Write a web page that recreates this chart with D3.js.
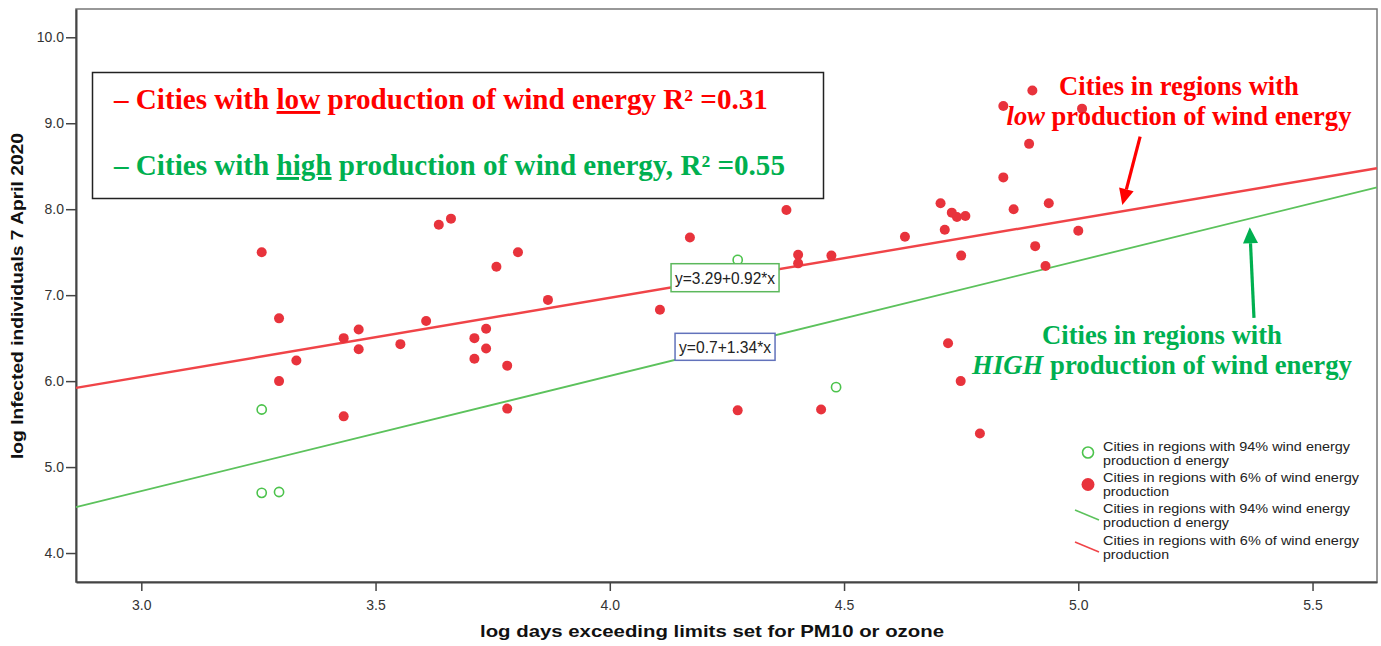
<!DOCTYPE html>
<html>
<head>
<meta charset="utf-8">
<script src="https://cdn.jsdelivr.net/npm/d3@7"></script>
<style>
  body { margin: 0; background: #fff; }
  svg { display: block; }
  .tick text { font-family: "Liberation Sans", Arial, sans-serif; font-size: 14px; fill: #333; }
  .serif { font-family: "Liberation Serif", "Times New Roman", serif; font-weight: bold; }
  .sans { font-family: "Liberation Sans", Arial, sans-serif; }
</style>
</head>
<body>
<svg id="chart" width="1381" height="646"></svg>
<script>
// cities in regions with low wind production (6%)
var lowX = [3.257, 3.294, 3.331, 3.294, 3.432, 3.432, 3.464, 3.464, 3.553, 3.608,
            3.635, 3.661, 3.758, 3.804, 3.868, 3.711, 3.736, 3.736, 3.711, 3.781,
            3.781, 4.107, 4.171, 4.377, 4.402, 4.402, 4.473, 4.273, 4.451, 4.902,
            4.840, 5.008, 4.895, 4.840, 4.706, 4.730, 4.741, 4.759, 4.862, 4.937,
            4.630, 4.715, 4.750, 4.908, 5.000, 4.930, 4.722, 4.749, 4.790];
var lowY = [7.50, 6.73, 6.24, 6.00, 5.59, 6.50, 6.60, 6.37, 6.43, 6.70,
            7.82, 7.89, 7.33, 7.50, 6.945, 6.50, 6.61, 6.38, 6.26, 6.18,
            5.68, 6.83, 7.67, 7.99, 7.47, 7.37, 7.46, 5.66, 5.67, 9.38,
            9.20, 9.17, 8.76, 8.37, 8.07, 7.96, 7.91, 7.92, 8.00, 8.07,
            7.68, 7.76, 7.46, 7.57, 7.75, 7.34, 6.44, 6.00, 5.39];

// cities in regions with high wind production (94%)
var highX = [3.257, 3.257, 3.294, 4.273, 4.483];
var highY = [5.67, 4.70, 4.71, 7.41, 5.93];

// fitted lines: [intercept, slope]
var fitLow = [3.29, 0.92];
var fitHigh = [0.7, 1.34];

var xTicks = [3.0, 3.5, 4.0, 4.5, 5.0, 5.5];
var yTicks = [4.0, 5.0, 6.0, 7.0, 8.0, 9.0, 10.0];

var legendLabels = [
    ["Cities in regions with 94% wind energy", "production d energy"],
    ["Cities in regions with 6% of wind energy", "production"],
    ["Cities in regions with 94% wind energy", "production d energy"],
    ["Cities in regions with 6% of wind energy", "production"]
];

var red = "#e8333c", redLine = "#f04448", green = "#4cc34c", greenLine = "#5cc25c";

var svg = d3.select("#chart");
var plotL = 76, plotR = 1377, plotT = 9, plotB = 582;

var x = d3.scaleLinear().domain([2.8606, 5.6376]).range([plotL, plotR]);
var y = d3.scaleLinear().domain([3.663, 10.329]).range([plotB, plotT]);

// frame
svg.append("rect")
    .attr("x", plotL).attr("y", plotT)
    .attr("width", plotR - plotL).attr("height", plotB - plotT)
    .attr("fill", "none").attr("stroke", "#777").attr("stroke-width", 1.5);

// axes
var xAxis = svg.append("g").attr("transform", "translate(0," + plotB + ")")
    .call(d3.axisBottom(x).tickValues(xTicks).tickFormat(d3.format(".1f")).tickSize(9).tickSizeOuter(0));
var yAxis = svg.append("g").attr("transform", "translate(" + plotL + ",0)")
    .call(d3.axisLeft(y).tickValues(yTicks).tickFormat(d3.format(".1f")).tickSize(10).tickSizeOuter(0));
[xAxis, yAxis].forEach(function (a) {
    a.select(".domain").attr("stroke", "#444").attr("stroke-width", 2);
    a.selectAll(".tick line").attr("stroke", "#444").attr("stroke-width", 1.5);
});
xAxis.selectAll(".tick text").attr("dy", "1.15em");
yAxis.selectAll(".tick text").attr("x", -12);

// axis titles
svg.append("text").attr("class", "sans")
    .attr("x", 712).attr("y", 637).attr("text-anchor", "middle")
    .attr("font-size", 17).attr("font-weight", "bold").attr("fill", "#111")
    .attr("textLength", 464).attr("lengthAdjust", "spacingAndGlyphs")
    .text("log days exceeding limits set for PM10 or ozone");
svg.append("text").attr("class", "sans")
    .attr("transform", "translate(23,296) rotate(-90)").attr("text-anchor", "middle")
    .attr("font-size", 17).attr("font-weight", "bold").attr("fill", "#111")
    .attr("textLength", 326).attr("lengthAdjust", "spacingAndGlyphs")
    .text("log Infected individuals 7 April 2020");

// regression lines
function fitLine(f, color, w) {
    var d = x.domain();
    svg.append("line")
        .attr("x1", x(d[0])).attr("y1", y(f[0] + f[1] * d[0]))
        .attr("x2", x(d[1])).attr("y2", y(f[0] + f[1] * d[1]))
        .attr("stroke", color).attr("stroke-width", w);
}
fitLine(fitHigh, greenLine, 1.8);
fitLine(fitLow, redLine, 2.4);

// points
svg.append("g").selectAll("circle")
    .data(d3.zip(lowX, lowY)).enter().append("circle")
    .attr("cx", function (d) { return x(d[0]); })
    .attr("cy", function (d) { return y(d[1]); })
    .attr("r", 5).attr("fill", red);
svg.append("g").selectAll("circle")
    .data(d3.zip(highX, highY)).enter().append("circle")
    .attr("cx", function (d) { return x(d[0]); })
    .attr("cy", function (d) { return y(d[1]); })
    .attr("r", 4.6).attr("fill", "none").attr("stroke", green).attr("stroke-width", 1.6);

// equation labels
function eqBox(cx, cy, w, h, border, label) {
    var g = svg.append("g").attr("transform", "translate(" + x(cx) + "," + y(cy) + ")");
    g.append("rect").attr("x", -w / 2).attr("y", -h / 2).attr("width", w).attr("height", h)
        .attr("fill", "#fff").attr("stroke", border).attr("stroke-width", 1.5);
    g.append("text").attr("class", "sans").attr("text-anchor", "middle").attr("y", 6)
        .attr("font-size", 16).attr("fill", "#222")
        .attr("textLength", w - 8).attr("lengthAdjust", "spacingAndGlyphs")
        .text(label);
}
eqBox(4.246, 7.203, 108, 28, "#5cb85c", "y=" + fitLow[0] + "+" + fitLow[1] + "*x");
eqBox(4.246, 6.399, 100, 27, "#6272bb", "y=" + fitHigh[0] + "+" + fitHigh[1] + "*x");

// fit a serif text to a target width by its font size
function fitFont(t, w) {
    var len = t.node().getComputedTextLength();
    var fs = parseFloat(t.attr("font-size"));
    t.attr("font-size", fs * w / len);
}

// R2 box, top left
svg.append("rect").attr("x", 92.5).attr("y", 72.5).attr("width", 731).attr("height", 126)
    .attr("fill", "#fff").attr("stroke", "#222").attr("stroke-width", 1.5);

function boxLine(yy, color, word, rest, w) {
    var t = svg.append("text").attr("class", "serif").attr("x", 114).attr("y", yy)
        .attr("font-size", 28).attr("fill", color);
    t.append("tspan").text("\u2013 Cities with ");
    t.append("tspan").attr("text-decoration", "underline").text(word);
    t.append("tspan").text(rest);
    fitFont(t, w);
}
boxLine(109, "#ff0000", "low", " production of wind energy R\u00b2 =0.31", 654);
boxLine(175, "#00b050", "high", " production of wind energy, R\u00b2 =0.55", 671);

// annotations on the right
function note(cx, y1, y2, color, em, rest, w1, w2) {
    var a = svg.append("text").attr("class", "serif").attr("x", cx).attr("y", y1)
        .attr("text-anchor", "middle").attr("font-size", 24).attr("fill", color)
        .text("Cities in regions with");
    fitFont(a, w1);
    var b = svg.append("text").attr("class", "serif").attr("x", cx).attr("y", y2)
        .attr("text-anchor", "middle").attr("font-size", 24).attr("fill", color);
    b.append("tspan").attr("font-style", "italic").text(em);
    b.append("tspan").text(rest);
    fitFont(b, w2);
}
note(1179, 95, 125, "#ff0000", "low", " production of wind energy", 240, 345);
note(1162, 344, 374, "#00b050", "HIGH", " production of wind energy", 240, 380);

// arrows, in data units
function arrow(x1, y1, x2, y2, color) {
    var px1 = x(x1), py1 = y(y1), px2 = x(x2), py2 = y(y2);
    var ang = Math.atan2(py2 - py1, px2 - px1);
    var len = 16, half = 7.5;
    var bx = px2 - len * Math.cos(ang), by = py2 - len * Math.sin(ang);
    svg.append("line").attr("x1", px1).attr("y1", py1).attr("x2", bx).attr("y2", by)
        .attr("stroke", color).attr("stroke-width", 3.2);
    svg.append("path")
        .attr("d", "M" + px2 + "," + py2 +
            "L" + (bx + half * Math.sin(ang)) + "," + (by - half * Math.cos(ang)) +
            "L" + (bx - half * Math.sin(ang)) + "," + (by + half * Math.cos(ang)) + "Z")
        .attr("fill", color);
}
arrow(5.132, 8.845, 5.094, 8.050, "#ff0000");
arrow(5.375, 6.736, 5.366, 7.790, "#00b050");

// legend, bottom right
var lg = svg.append("g").attr("transform", "translate(1075,0)");
var rowY = [451, 482, 513, 545];
legendLabels.forEach(function (lab, i) {
    var yy = rowY[i];
    if (i == 0) {
        lg.append("circle").attr("cx", 13).attr("cy", yy + 1.5).attr("r", 5.5)
            .attr("fill", "none").attr("stroke", green).attr("stroke-width", 1.6);
    } else if (i == 1) {
        lg.append("circle").attr("cx", 13).attr("cy", yy + 2.5).attr("r", 6.5).attr("fill", red);
    } else {
        lg.append("line").attr("x1", 0).attr("y1", yy - 3).attr("x2", 24).attr("y2", yy + 7)
            .attr("stroke", i == 2 ? greenLine : redLine).attr("stroke-width", 1.5);
    }
    lab.forEach(function (s, j) {
        var t = lg.append("text").attr("class", "sans").attr("x", 28).attr("y", yy + j * 13.5)
            .attr("font-size", 13).attr("fill", "#222").text(s);
        var wTarget = { "Cities in regions with 94% wind energy": 247,
                        "Cities in regions with 6% of wind energy": 256,
                        "production d energy": 126, "production": 66 }[s];
        t.attr("textLength", wTarget).attr("lengthAdjust", "spacingAndGlyphs");
    });
});
</script>
</body>
</html>
